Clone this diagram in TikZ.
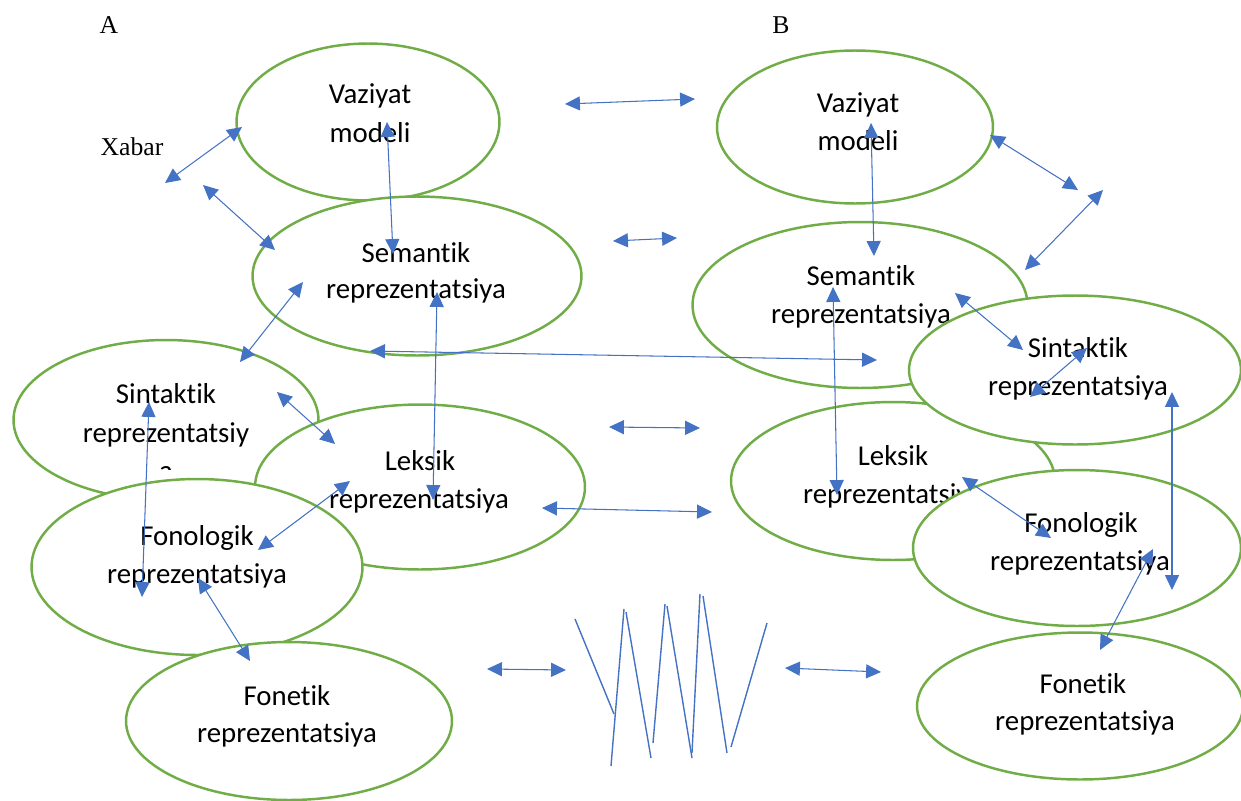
\documentclass[tikz,border=0pt]{standalone}
\usepackage{fontspec}
\setmainfont{Liberation Serif}
\newfontfamily\calib[RawFeature=-liga]{Carlito}
\usetikzlibrary{shapes.geometric,arrows.meta}
\definecolor{bubgreen}{HTML}{70AD47}
\definecolor{linkblue}{HTML}{4472C4}
\begin{document}
\begin{tikzpicture}[x=0.02cm,y=-0.02cm,
  bubble/.style={ellipse, draw=bubgreen, line width=1.4pt, fill=white, inner sep=0pt},
  lbl/.style={font=\calib\fontsize{16.4}{19}\selectfont, inner sep=0pt, anchor=base},
  tag/.style={font=\fontsize{14.6}{16}\selectfont, inner sep=0pt, anchor=base},
  link/.style={draw=linkblue, line width=0.6pt, {Triangle[length=8.5pt,width=8pt]}-{Triangle[length=8.5pt,width=8pt]}},
  zig/.style={draw=linkblue, line width=0.8pt}]
\useasboundingbox (0,0) rectangle (1241,801);

% ---- headings ----
\node[tag] (tA) at (109,33) {A};
\node[tag] (tB) at (781,33) {B};
\node[tag] (xab) at (132,155) {Xabar};

% ---- left column ----
\node[bubble, minimum width=5.26cm, minimum height=3.14cm] (lvaz) at (368,122) {};
\node[lbl] at (370,103) {Vaziyat};
\node[lbl] at (370,142) {modeli};

\node[bubble, minimum width=6.58cm, minimum height=3.18cm] (lsem) at (417,276) {};
\node[lbl] at (416,262) {Semantik};
\node[lbl] at (416,298) {reprezentatsiya};

\node[bubble, minimum width=6.10cm, minimum height=3.20cm] (lsin) at (166,420) {};
\node[lbl] at (166,403) {Sintaktik};
\node[lbl] at (166,442) {reprezentatsiy};
\begin{scope}
  \clip (120,445) rectangle (210,469);
  \node[lbl] at (166,480) {a};
\end{scope}

\node[bubble, minimum width=6.60cm, minimum height=3.30cm] (llek) at (420,487) {};
\node[lbl] at (420,470) {Leksik};
\node[lbl] at (419,508) {reprezentatsiya};

\node[bubble, minimum width=6.62cm, minimum height=3.52cm] (lfnl) at (197,567) {};
\node[lbl] at (197,545) {Fonologik};
\node[lbl] at (197,583) {reprezentatsiya};

\node[bubble, minimum width=6.52cm, minimum height=3.16cm] (lfnt) at (289,721) {};
\node[lbl] at (287,705) {Fonetik};
\node[lbl] at (287,742) {reprezentatsiya};

% ---- right column ----
\node[bubble, minimum width=5.52cm, minimum height=3.06cm] (rvaz) at (855,127) {};
\node[lbl] at (858,112) {Vaziyat};
\node[lbl] at (858,150) {modeli};

\node[bubble, minimum width=6.70cm, minimum height=3.32cm] (rsem) at (860,305) {};
\node[lbl] at (861,285) {Semantik};
\node[lbl] at (861,323) {reprezentatsiya};

\node[bubble, minimum width=6.48cm, minimum height=3.16cm] (rlek) at (893,481) {};
\node[lbl] at (893,465) {Leksik};
\node[lbl] at (893,503) {reprezentatsiya};

\node[bubble, minimum width=6.64cm, minimum height=2.98cm] (rsin) at (1075,370) {};
\node[lbl] at (1078,357) {Sintaktik};
\node[lbl] at (1078,395) {reprezentatsiya};

\node[bubble, minimum width=6.56cm, minimum height=3.12cm] (rfnl) at (1077,548) {};
\node[lbl] at (1081,532) {Fonologik};
\node[lbl] at (1080,570) {reprezentatsiya};

\node[bubble, minimum width=6.52cm, minimum height=2.94cm] (rfnt) at (1080,706) {};
\node[lbl] at (1083,693) {Fonetik};
\node[lbl] at (1085,730) {reprezentatsiya};

% ---- connector end points ----
\coordinate (c1a) at (165,183);  \coordinate (c1b) at (242,127);
\coordinate (c2a) at (203,185);  \coordinate (c2b) at (275,250);
\coordinate (c3a) at (387,122);  \coordinate (c3b) at (393,254);
\coordinate (c4a) at (303,282);  \coordinate (c4b) at (240,362);
\coordinate (c5a) at (437,292);  \coordinate (c5b) at (433,500);
\coordinate (c6a) at (370,351);  \coordinate (c6b) at (877,360);
\coordinate (c7a) at (277,392);  \coordinate (c7b) at (335,444);
\coordinate (c8a) at (149,402);  \coordinate (c8b) at (142,597);
\coordinate (c9a) at (350,481);  \coordinate (c9b) at (258,550);
\coordinate (c10a) at (198,578); \coordinate (c10b) at (250,661);
\coordinate (c11a) at (542,508); \coordinate (c11b) at (712,512);
\coordinate (c12a) at (565,104); \coordinate (c12b) at (695,99);
\coordinate (c13a) at (613,241); \coordinate (c13b) at (677,238);
\coordinate (c14a) at (609,427); \coordinate (c14b) at (700,428);
\coordinate (c15a) at (487,669); \coordinate (c15b) at (566,670);
\coordinate (c16a) at (785,668); \coordinate (c16b) at (881,672);
\coordinate (c17a) at (871,123); \coordinate (c17b) at (874,256);
\coordinate (c18a) at (990,135); \coordinate (c18b) at (1078,190);
\coordinate (c19a) at (1103,190);\coordinate (c19b) at (1025,270);
\coordinate (c20a) at (833,287); \coordinate (c20b) at (837,495);
\coordinate (c21a) at (955,293); \coordinate (c21b) at (1023,350);
\coordinate (c22a) at (1087,348);\coordinate (c22b) at (1030,397);
\coordinate (c23a) at (1172,392);\coordinate (c23b) at (1172,590);
\coordinate (c24a) at (962,477); \coordinate (c24b) at (1051,538);
\coordinate (c25a) at (1153,549);\coordinate (c25b) at (1100,650);

% ---- connectors ----
\foreach \k in {1,...,25}{\draw[link] (c\k a) -- (c\k b);}

% ---- zigzag between the two Fonetik bubbles ----
\draw[zig] (575,619) -- (614,714);
\draw[zig] (611,766) -- (624,609);
\draw[zig] (626,612) -- (651,758);
\draw[zig] (653,743) -- (665,604);
\draw[zig] (667,606) -- (692,758);
\draw[zig] (692,753) -- (700,594);
\draw[zig] (703,596) -- (727,753);
\draw[zig] (731,747) -- (767,623);
\end{tikzpicture}
\end{document}
